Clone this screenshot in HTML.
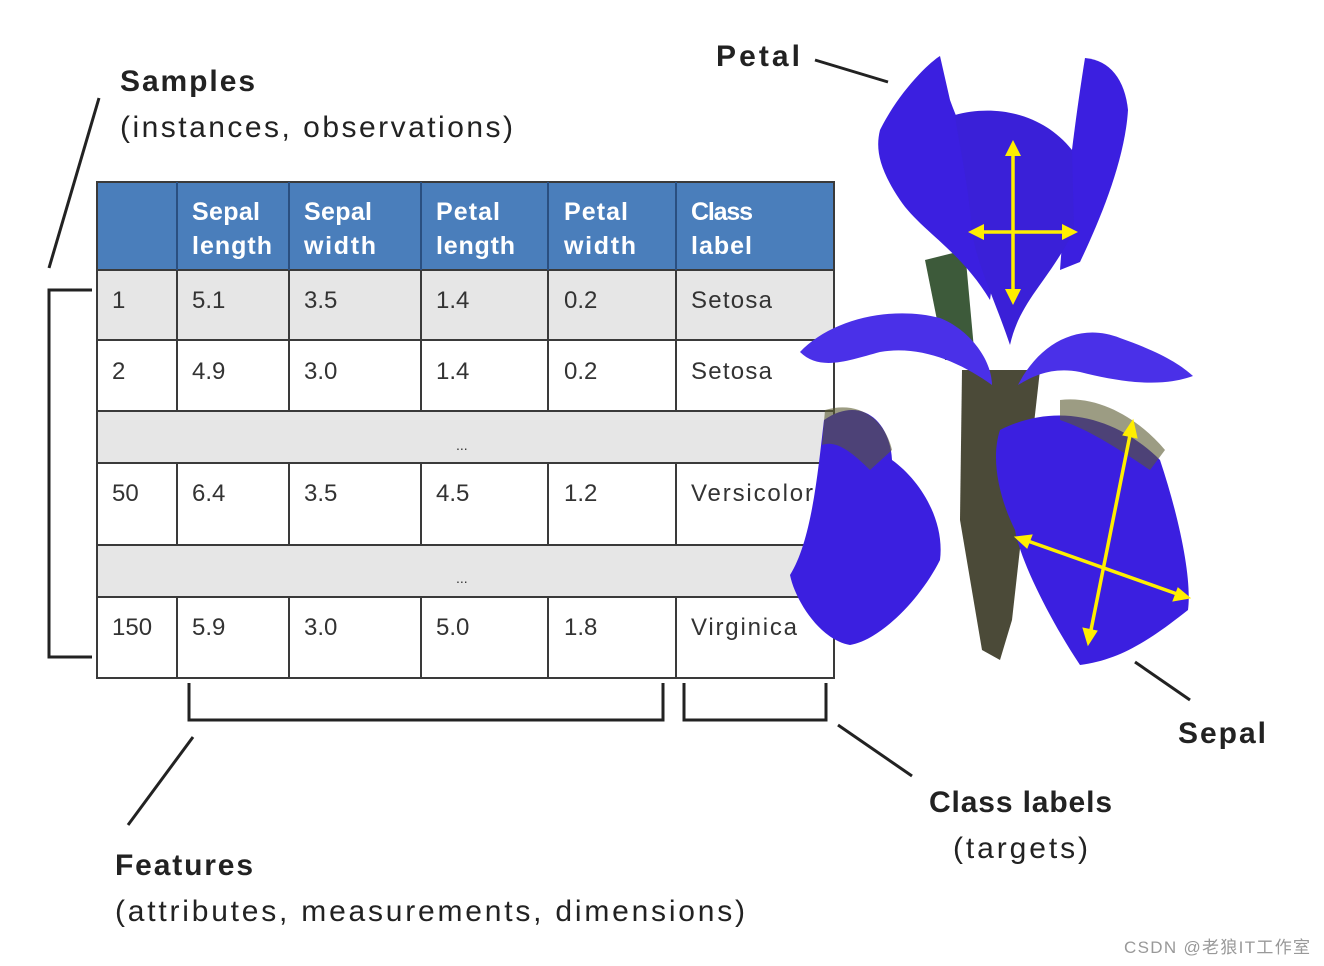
<!DOCTYPE html>
<html><head><meta charset="utf-8"><style>
body{margin:0;background:#fff;}
svg{display:block}
text{font-family:"Liberation Sans",sans-serif;}
</style></head><body>
<svg width="1324" height="966" viewBox="0 0 1324 966">
<!-- table -->
<rect x="97" y="182" width="737" height="88" fill="#4a7ebb"/>
<rect x="97" y="270" width="737" height="70" fill="#e6e6e6"/>
<rect x="97" y="411" width="737" height="52" fill="#e6e6e6"/>
<rect x="97" y="545" width="737" height="52" fill="#e6e6e6"/>
<g stroke="#3a3a3a" stroke-width="2" fill="none">
<rect x="97" y="182" width="737" height="496"/>
<line x1="97" y1="270" x2="834" y2="270"/>
<line x1="97" y1="340" x2="834" y2="340"/>
<line x1="97" y1="411" x2="834" y2="411"/>
<line x1="97" y1="463" x2="834" y2="463"/>
<line x1="97" y1="545" x2="834" y2="545"/>
<line x1="97" y1="597" x2="834" y2="597"/>
<g stroke="#2a4f80"><line x1="177" y1="182" x2="177" y2="270"/><line x1="289" y1="182" x2="289" y2="270"/><line x1="421" y1="182" x2="421" y2="270"/><line x1="548" y1="182" x2="548" y2="270"/><line x1="676" y1="182" x2="676" y2="270"/></g>
<path d="M177 270V411M289 270V411M421 270V411M548 270V411M676 270V411"/>
<path d="M177 463V545M289 463V545M421 463V545M548 463V545M676 463V545"/>
<path d="M177 597V678M289 597V678M421 597V678M548 597V678M676 597V678"/>
</g>
<g fill="#fff" font-size="25" font-weight="bold">
<text x="192" y="220" textLength="68">Sepal</text><text x="192" y="254" textLength="80">length</text>
<text x="304" y="220" textLength="68">Sepal</text><text x="304" y="254" textLength="72">width</text>
<text x="436" y="220" textLength="64">Petal</text><text x="436" y="254" textLength="79">length</text>
<text x="564" y="220" textLength="64">Petal</text><text x="564" y="254" textLength="72">width</text>
<text x="691" y="220" textLength="62">Class</text><text x="691" y="254" textLength="61">label</text>
</g>
<g fill="#333" font-size="24">
<text x="112" y="308">1</text><text x="192" y="308">5.1</text><text x="304" y="308">3.5</text><text x="436" y="308">1.4</text><text x="564" y="308">0.2</text><text x="691" y="308" textLength="81">Setosa</text>
<text x="112" y="379">2</text><text x="192" y="379">4.9</text><text x="304" y="379">3.0</text><text x="436" y="379">1.4</text><text x="564" y="379">0.2</text><text x="691" y="379" textLength="81">Setosa</text>
<text x="112" y="501">50</text><text x="192" y="501">6.4</text><text x="304" y="501">3.5</text><text x="436" y="501">4.5</text><text x="564" y="501">1.2</text><text x="691" y="501" textLength="122">Versicolor</text>
<text x="112" y="635">150</text><text x="192" y="635">5.9</text><text x="304" y="635">3.0</text><text x="436" y="635">5.0</text><text x="564" y="635">1.8</text><text x="691" y="635" textLength="106">Virginica</text>
<text x="456" y="450" font-size="14">...</text><text x="456" y="583" font-size="14">...</text>
</g>
<!-- brackets & leaders -->
<g stroke="#222" stroke-width="3" fill="none">
<path d="M92 290H49V657H92"/>
<path d="M189 683V720H663V683"/>
<path d="M684 683V720H826V683"/>
<line x1="99" y1="98" x2="49" y2="268"/>
<line x1="815" y1="60" x2="888" y2="82"/>
<line x1="1135" y1="662" x2="1190" y2="700"/>
<line x1="838" y1="725" x2="912" y2="776"/>
<line x1="193" y1="737" x2="128" y2="825"/>
</g>
<!-- labels -->
<g fill="#222" font-size="30">
<text x="120" y="91" font-weight="bold" textLength="135">Samples</text>
<text x="120" y="137" textLength="393">(instances, observations)</text>
<text x="716" y="66" font-weight="bold" textLength="84">Petal</text>
<text x="1178" y="743" font-weight="bold" textLength="88">Sepal</text>
<text x="929" y="812" font-weight="bold" textLength="183">Class labels</text>
<text x="953" y="858" textLength="135">(targets)</text>
<text x="115" y="875" font-weight="bold" textLength="138">Features</text>
<text x="115" y="921" textLength="630">(attributes, measurements, dimensions)</text>
</g>
<text x="1124" y="953" font-size="17" fill="#999" textLength="186">CSDN @老狼IT工作室</text>
<!-- flower -->
<path d="M962 370L1040 370L1012 620L1000 660L982 650L960 520Z" fill="#4b4a38"/>
<path d="M925 260L965 250L975 360L945 360Z" fill="#3d5a3a"/>
<g fill="#3b1fe0">
<path d="M880 130C900 90 930 62 940 56L950 100C968 150 992 180 1000 230L990 300C960 250 920 230 900 200C880 170 875 150 880 130Z"/>
<path d="M1085 58C1110 60 1125 80 1128 110C1125 160 1100 220 1080 262L1060 270C1065 200 1075 120 1085 58Z"/>
<path d="M955 115C990 105 1040 110 1072 150L1074 230C1050 280 1020 300 1010 345C995 300 975 260 972 230C968 180 958 140 955 115Z" fill="#3a20d8"/>
<path d="M824 420C860 395 890 420 892 460C920 480 945 520 940 560C920 600 880 640 850 645C820 640 795 600 790 575C812 540 818 470 824 420Z"/>
<path d="M1000 430C1060 400 1120 420 1160 460C1180 520 1192 580 1188 610C1150 640 1120 660 1080 665C1050 620 1020 560 1015 530C1000 500 990 460 1000 430Z"/>
<path d="M800 352C830 320 890 305 940 318C970 330 992 360 992 385C960 362 920 345 880 352C850 360 820 372 800 352Z" fill="#4a30e8"/>
<path d="M1018 385C1040 342 1080 322 1120 338C1160 352 1180 364 1193 376C1160 388 1120 382 1080 372C1050 366 1030 378 1018 385Z" fill="#4a30e8"/>
</g>
<path d="M825 410C860 400 885 420 892 450L870 470C850 450 835 440 822 445Z" fill="#5a5a30" opacity=".6"/>
<path d="M1060 400C1100 395 1140 420 1165 450L1150 470C1120 450 1090 430 1060 420Z" fill="#5a5a30" opacity=".6"/>
<g stroke="#ffee00" stroke-width="3.5" fill="#ffee00">
<line x1="1013" y1="150" x2="1013" y2="295"/>
<line x1="978" y1="232" x2="1068" y2="232"/>
<line x1="1131" y1="430" x2="1090" y2="635"/>
<line x1="1025" y1="540" x2="1180" y2="595"/>
<path d="M1013 140l-8 16h16zM1013 305l-8-16h16zM968 232l16-8v16zM1078 232l-16-8v16z" stroke="none"/>
<path d="M1133 420l-10 15 14 3zM1088 645l-5-17 14 3zM1015 537l17-2-5 13zM1190 598l-17 3 5-13z" stroke-width="1"/>
</g>
</svg>
</body></html>
